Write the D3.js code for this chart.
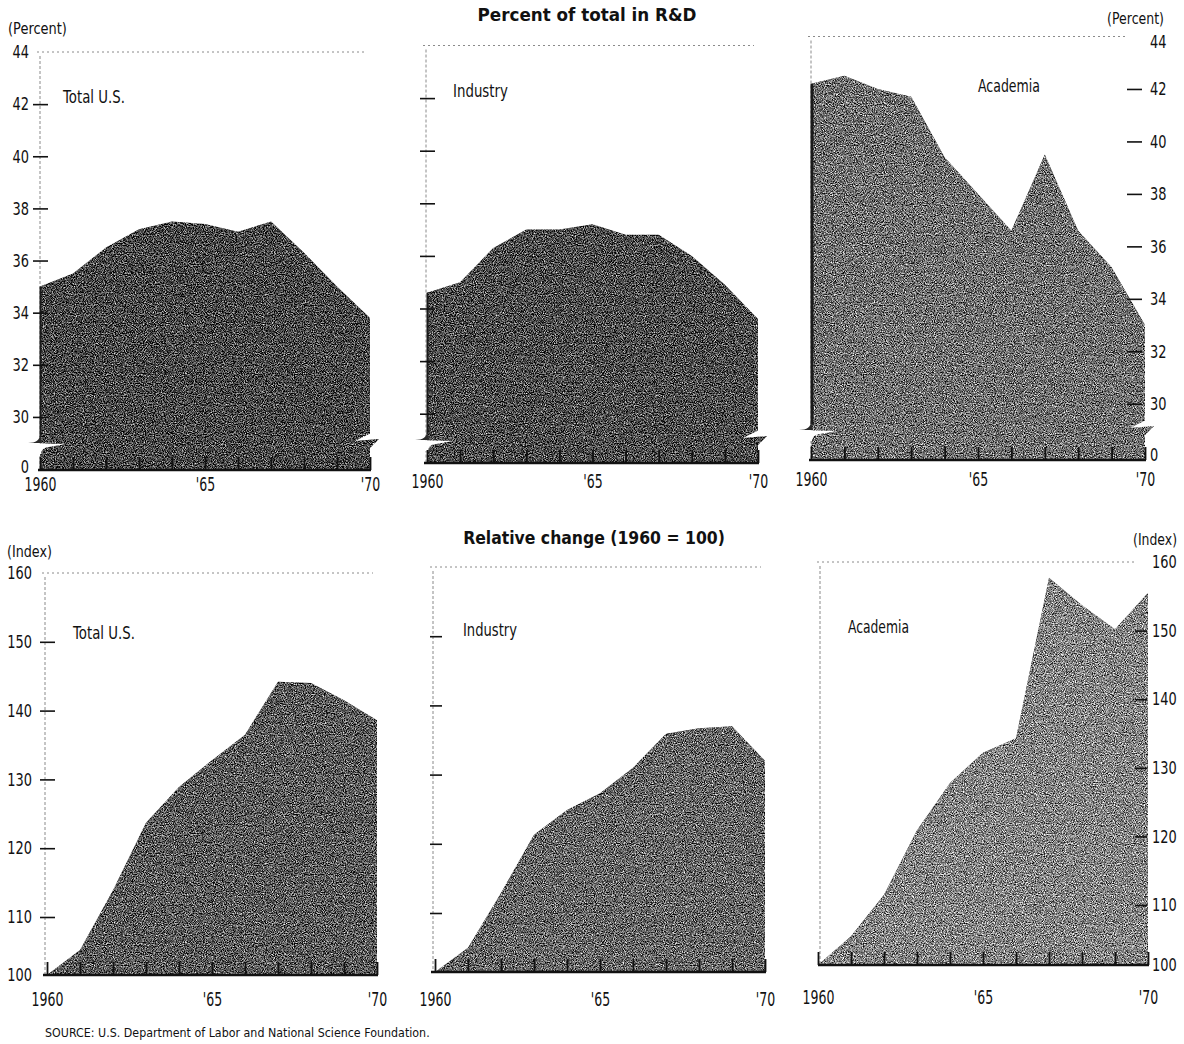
<!DOCTYPE html>
<html>
<head>
<meta charset="utf-8">
<script src="https://cdn.jsdelivr.net/npm/d3@7"></script>
<style>
  body { margin: 0; background: #fff; }
  svg text { font-family: "Liberation Sans Narrow", "DejaVu Sans", sans-serif; fill: #111; }
  .title { font-weight: bold; font-size: 18px; }
  .unit { font-size: 15px; }
  .name { font-size: 17px; }
  .yaxis text { font-size: 18px; }
  .xaxis text { font-size: 19px; }
  .source { font-size: 13px; }
</style>
</head>
<body>
<div id="chart"></div>
<script>
'use strict';

var years = [1960, 1961, 1962, 1963, 1964, 1965, 1966, 1967, 1968, 1969, 1970];

// percent of total in R&D
var pctTotal    = [35.0, 35.5, 36.5, 37.2, 37.5, 37.4, 37.1, 37.5, 36.3, 35.0, 33.8];
var pctIndustry = [34.6, 35.0, 36.3, 37.0, 37.0, 37.2, 36.8, 36.8, 36.0, 34.9, 33.6];
var pctAcademia = [42.2, 42.5, 42.0, 41.7, 39.4, 38.0, 36.6, 39.5, 36.6, 35.2, 33.0];

// relative change, 1960 = 100
var idxTotal    = [100, 104.3, 113.9, 123.7, 128.9, 132.8, 136.5, 144.2, 144.0, 141.5, 138.6];
var idxIndustry = [100, 104.1, 112.9, 121.3, 124.9, 127.3, 131.0, 135.9, 136.7, 137.0, 132.0];
var idxAcademia = [100, 104.8, 111.5, 120.9, 127.8, 132.2, 134.3, 157.7, 153.7, 150.2, 155.5];

var pctTicks = [0, 30, 32, 34, 36, 38, 40, 42, 44];
var idxTicks = [100, 110, 120, 130, 140, 150, 160];
var yearLabels = {1960: '1960', 1965: "'65", 1970: "'70"};
var seriesNames = ['Total U.S.', 'Industry', 'Academia'];

var width = 1184, height = 1044;

var svg = d3.select('#chart').append('svg')
  .attr('width', width)
  .attr('height', height);

// squeeze text horizontally (the original uses a tall condensed face)
function squeeze(sel, sx) {
  sel.each(function() {
    var t = d3.select(this);
    var x = +t.attr('x') || 0;
    t.attr('x', x / sx).attr('transform', 'scale(' + sx + ',1)');
  });
}
function fit(sel, w) {
  var len = sel.node().getComputedTextLength();
  squeeze(sel, w / len);
}

// halftone-ish grain for the shaded areas
var filter = svg.append('defs').append('filter')
  .attr('id', 'grain')
  .attr('x', 0).attr('y', 0).attr('width', 1).attr('height', 1)
  .attr('color-interpolation-filters', 'sRGB');
filter.append('feTurbulence')
  .attr('type', 'fractalNoise')
  .attr('baseFrequency', 0.9)
  .attr('numOctaves', 2)
  .attr('seed', 7)
  .attr('result', 'n');
filter.append('feColorMatrix')
  .attr('in', 'n')
  .attr('type', 'matrix')
  .attr('values', '1 0 0 0 0  1 0 0 0 0  1 0 0 0 0  0 0 0 0 1')
  .attr('result', 'g');
filter.append('feComposite')
  .attr('in', 'SourceGraphic').attr('in2', 'g')
  .attr('operator', 'arithmetic')
  .attr('k1', 0).attr('k2', 1).attr('k3', 1.8).attr('k4', -0.9)
  .attr('result', 'm');
filter.append('feComposite')
  .attr('in', 'm').attr('in2', 'SourceGraphic')
  .attr('operator', 'in');

var panels = [
  {values: pctTotal, name: 0, ticks: pctTicks, domain: [0, 29, 44], yRange: [470, 443, 52], xRange: [40, 370],
   axisX: 40, side: 'left', dashX: 48, dash: 15, pad: 4, labels: true, nameXY: [63, 97, 62], yearPad: 8,
   fill: '#474747', brk: true, edge: 2, baseShift: -3},
  {values: pctIndustry, name: 1, ticks: pctTicks, domain: [0, 29, 44], yRange: [463, 440, 45.5], xRange: [427, 758],
   axisX: 426, side: 'left', dashX: 435, dash: 15, pad: 4, labels: false, nameXY: [453, 91, 55], yearPad: 12,
   fill: '#4b4b4b', brk: true, edge: 2},
  {values: pctAcademia, name: 2, ticks: pctTicks, domain: [0, 29, 44], yRange: [460, 430, 36.5], xRange: [811, 1145],
   axisX: 811, side: 'right', dashX: 1127, dash: 15, pad: 8, labels: true, nameXY: [978, 86, 62], yearPad: 13,
   fill: '#6f6f6f', brk: true, edge: 3, topShift: 5, baseShift: -5},
  {values: idxTotal, name: 0, ticks: idxTicks, domain: [100, 110, 160], yRange: [975, 917, 573], xRange: [47, 377],
   axisX: 45, side: 'left', dashX: 55, dash: 15, pad: 8, labels: true, nameXY: [73, 633, 62], yearPad: 18,
   fill: '#595959'},
  {values: idxIndustry, name: 1, ticks: idxTicks, domain: [100, 110, 160], yRange: [972, 913, 567], xRange: [435, 765],
   axisX: 433, side: 'left', dashX: 442, dash: 12, pad: 4, labels: false, nameXY: [463, 630, 54], yearPad: 21,
   fill: '#656565'},
  {values: idxAcademia, name: 2, ticks: idxTicks, domain: [100, 110, 160], yRange: [965, 905, 562], xRange: [818, 1148],
   axisX: 820, side: 'right', dashX: 1135, dash: 12, pad: 5, labels: true, nameXY: [848, 627, 61], yearPad: 26,
   fill: '#838383'}
];

panels.forEach(function(p) {
  var g = svg.append('g');
  var x = d3.scaleLinear().domain([years[0], years[years.length - 1]]).range(p.xRange);
  var y = d3.scaleLinear().domain(p.domain).range(p.yRange);
  var top = p.domain[2], base = p.domain[0];
  var x0 = x(years[0]), x1 = x(years[years.length - 1]);
  var data = years.map(function(yr, i) { return {year: yr, value: p.values[i]}; });

  // dotted frame
  var hx1 = p.side === 'right' ? p.dashX : x1 - 4;
  g.append('line')
    .attr('x1', p.axisX - 3).attr('x2', hx1)
    .attr('y1', y(top)).attr('y2', y(top))
    .attr('stroke', '#8a8a8a')
    .attr('stroke-width', 1)
    .attr('stroke-dasharray', '2,3');
  g.append('line')
    .attr('x1', p.axisX).attr('x2', p.axisX)
    .attr('y1', y(top) + 4).attr('y2', y(base))
    .attr('stroke', '#8a8a8a')
    .attr('stroke-width', 1)
    .attr('stroke-dasharray', '3,2');

  var area = d3.area()
    .x(function(d) { return x(d.year); })
    .y0(y(base))
    .y1(function(d) { return y(d.value); });

  g.append('path')
    .datum(data)
    .attr('d', area)
    .attr('fill', p.fill)
    .attr('filter', 'url(#grain)');

  if (p.brk) {
    var yb = y(29);
    // dark left edge of the upper piece
    g.append('line')
      .attr('x1', x0 + p.edge / 2 - 0.5).attr('x2', x0 + p.edge / 2 - 0.5)
      .attr('y1', y(p.values[0])).attr('y2', yb - 6)
      .attr('stroke', '#1a1a1a')
      .attr('stroke-width', p.edge);
    // left break: foot + white notch
    g.append('path')
      .attr('d', 'M' + x0 + ',' + (yb - 9) + ' Q' + x0 + ',' + yb + ' ' + (x0 - 12) + ',' + yb + ' L' + (x0 + 2) + ',' + yb + ' Z')
      .attr('fill', '#2a2a2a');
    g.append('path')
      .attr('d', 'M' + (x0 - 12) + ',' + yb + ' L' + (x0 + 26) + ',' + (yb + 1) +
        ' L' + (x0 + 9) + ',' + (yb + 4) + ' Q' + (x0 + 1) + ',' + (yb + 5) + ' ' + (x0 + 1) + ',' + (yb + 11) +
        ' L' + (x0 - 12) + ',' + (yb + 11) + ' Z')
      .attr('fill', '#fff');
    // right break: white notch + spike
    g.append('path')
      .attr('d', 'M' + (x1 + 1) + ',' + (yb - 10) + ' L' + (x1 - 15) + ',' + (yb - 2) + ' L' + (x1 + 1) + ',' + (yb - 2) + ' Z')
      .attr('fill', '#fff');
    g.append('path')
      .attr('d', 'M' + (x1 - 15) + ',' + (yb - 2) + ' L' + (x1 + 9) + ',' + (yb - 4) + ' L' + (x1) + ',' + (yb + 5) + ' Z')
      .attr('fill', p.fill)
      .attr('filter', 'url(#grain)');
  }

  // baseline with year ticks
  var xAxis = d3.axisBottom(x)
    .tickValues(years)
    .tickSizeInner(-13)
    .tickSizeOuter(0)
    .tickPadding(p.yearPad)
    .tickFormat(function(d) { return yearLabels[d] || ''; });

  var xg = g.append('g')
    .attr('class', 'xaxis')
    .attr('transform', 'translate(0,' + y(base) + ')')
    .call(xAxis);
  xg.select('.domain')
    .attr('d', 'M' + (p.axisX - 2) + ',0H' + (x1 + 1))
    .attr('stroke', '#111')
    .attr('stroke-width', 2.5);
  xg.selectAll('.tick line')
    .attr('stroke', '#111')
    .attr('stroke-width', 1.8);
  xg.selectAll('.tick text').attr('fill', '#111');
  squeeze(xg.selectAll('.tick text'), 0.66);

  // value axis: short dashes crossing the axis line
  var yAxis = (p.side === 'right' ? d3.axisRight(y) : d3.axisLeft(y))
    .tickValues(p.ticks)
    .tickSizeInner(p.dash)
    .tickSizeOuter(0)
    .tickPadding(p.pad)
    .tickFormat(p.labels ? d3.format('d') : function() { return ''; });

  var yg = g.append('g')
    .attr('class', 'yaxis')
    .attr('transform', 'translate(' + p.dashX + ',0)')
    .call(yAxis);
  yg.select('.domain').remove();
  yg.selectAll('.tick line')
    .attr('stroke', '#111')
    .attr('stroke-width', 1.6)
    .attr('opacity', function(d) { return d === top || d === base ? 0 : 1; });
  yg.selectAll('.tick text')
    .attr('fill', '#111')
    .attr('y', function(d) {
      if (d === top && p.topShift) return p.topShift;
      if (d === base && p.baseShift) return p.baseShift;
      return 0;
    });
  squeeze(yg.selectAll('.tick text'), 0.72);

  var name = g.append('text')
    .attr('class', 'name')
    .attr('x', p.nameXY[0])
    .attr('y', p.nameXY[1])
    .attr('dy', '0.35em')
    .text(seriesNames[p.name]);
  fit(name, p.nameXY[2]);
});

// titles and units
var t1 = svg.append('text').attr('class', 'title')
  .attr('x', 587).attr('y', 15).attr('dy', '0.35em')
  .attr('text-anchor', 'middle')
  .text('Percent of total in R&D');
fit(t1, 219);
var t2 = svg.append('text').attr('class', 'title')
  .attr('x', 594).attr('y', 538).attr('dy', '0.35em')
  .attr('text-anchor', 'middle')
  .text('Relative change (1960 = 100)');
fit(t2, 262);

fit(svg.append('text').attr('class', 'unit')
  .attr('x', 8).attr('y', 29).attr('dy', '0.35em')
  .text('(Percent)'), 59);
fit(svg.append('text').attr('class', 'unit')
  .attr('x', 1164).attr('y', 19).attr('dy', '0.35em')
  .attr('text-anchor', 'end')
  .text('(Percent)'), 57);
fit(svg.append('text').attr('class', 'unit')
  .attr('x', 7).attr('y', 552).attr('dy', '0.35em')
  .text('(Index)'), 45);
fit(svg.append('text').attr('class', 'unit')
  .attr('x', 1177).attr('y', 540).attr('dy', '0.35em')
  .attr('text-anchor', 'end')
  .text('(Index)'), 44);

fit(svg.append('text').attr('class', 'source')
  .attr('x', 45).attr('y', 1032).attr('dy', '0.35em')
  .text('SOURCE:  U.S. Department of Labor and National Science Foundation.'), 385);
</script>
</body>
</html>
